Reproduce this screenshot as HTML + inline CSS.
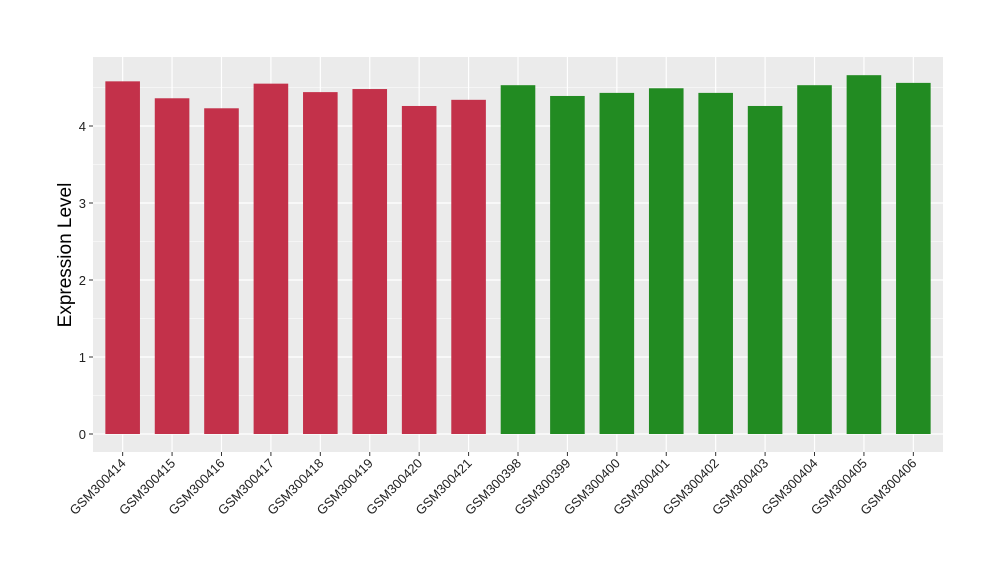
<!DOCTYPE html>
<html><head><meta charset="utf-8"><style>
body{margin:0;background:#fff;font-family:"Liberation Sans",sans-serif}
</style></head><body>
<svg id="chart" width="1000" height="580">
<rect x="93" y="57" width="850" height="395" fill="#EBEBEB"/>
<g id="grid"></g><g id="bars"></g><g id="yaxis"></g><g id="xaxis"></g>
<text x="71" y="255" transform="rotate(-90 71 255)" text-anchor="middle" font-size="19" fill="#000">Expression Level</text>
</svg>
<script>
const categories=["GSM300414","GSM300415","GSM300416","GSM300417","GSM300418","GSM300419","GSM300420","GSM300421","GSM300398","GSM300399","GSM300400","GSM300401","GSM300402","GSM300403","GSM300404","GSM300405","GSM300406"];
const values=[4.58,4.36,4.23,4.55,4.44,4.48,4.26,4.34,4.53,4.39,4.43,4.49,4.43,4.26,4.53,4.66,4.56];
const groups=["a","a","a","a","a","a","a","a","b","b","b","b","b","b","b","b","b"];
const yTicks=[0,1,2,3,4];
const colors={a:"#C3314A",b:"#228B22"};
const NS="http://www.w3.org/2000/svg";
const L=93,R=943,T=57,B=452;
const y=v=>434-v*77;
const step=(R-L)/(categories.length+0.2);
const x=i=>L+step*(0.6+i);
const bw=step*0.7;
function mk(t,a,p){const e=document.createElementNS(NS,t);for(const k in a)e.setAttribute(k,a[k]);p.appendChild(e);return e;}
const grid=document.getElementById('grid'),bars=document.getElementById('bars'),ya=document.getElementById('yaxis'),xa=document.getElementById('xaxis');
for(let i=0;i<yTicks.length;i++){
 const v=yTicks[i];
 const g=mk('line',{x1:L,x2:R,y1:y(v),y2:y(v),stroke:'#fff','stroke-width':1.2},grid);
 
 
 if(i<yTicks.length-1||true){const m=mk('line',{x1:L,x2:R,y1:y(v+0.5),y2:y(v+0.5),stroke:'#fff','stroke-width':0.5},grid);
 
 }
 const tk=mk('line',{x1:L-4,x2:L,y1:y(v),y2:y(v),stroke:'#333'},ya);
 
 
 const t=mk('text',{x:L-7,y:y(v)+5,'text-anchor':'end','font-size':13,fill:'#222'},ya);
 t.textContent=v;
 
 
}
{const m=mk('line',{x1:L,x2:R,y1:y(-0.5)>B?B:y(-0.5),y2:y(-0.5)>B?B:y(-0.5),stroke:'none'},grid);}
categories.forEach((c,i)=>{
 const cx=x(i);
 const g=mk('line',{x1:cx,x2:cx,y1:T,y2:B,stroke:'#fff','stroke-width':1.2},grid);
 
 
 const b=mk('rect',{x:cx-bw/2,y:y(values[i]),width:bw,height:y(0)-y(values[i]),fill:colors[groups[i]]},bars);
 
 
 const tk=mk('line',{x1:cx,x2:cx,y1:B,y2:B+4,stroke:'#333'},xa);
 
 
 const t=mk('text',{x:cx+4,y:B+12,'text-anchor':'end','font-size':13,fill:'#222',transform:`rotate(-45 ${cx+4} ${B+12})`},xa);
 t.textContent=c;
 
 
});
</script>
</body></html>
